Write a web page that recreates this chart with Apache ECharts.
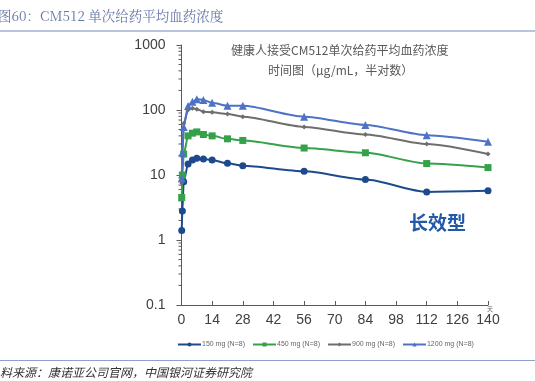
<!DOCTYPE html>
<html><head><meta charset="utf-8">
<script src="https://cdn.jsdelivr.net/npm/echarts@6/dist/echarts.min.js"></script>
<style>html,body{margin:0;padding:0;background:#fff}#c{width:535px;height:381px}</style>
</head><body><div id="c"></div>
<script>
const days = [0.1, 0.4, 1, 3, 5, 7, 10, 14, 21, 28, 56, 84, 112, 140];
const dose150 = [1.4, 2.8, 7.9, 14.8, 17.0, 18.1, 17.6, 17.0, 15.1, 13.9, 11.4, 8.5, 5.5, 5.7];
const dose450 = [4.5, 10, 21, 40, 44, 46, 42, 40, 36, 34, 26, 22, 15, 13];
const dose900 = [7.5, 20, 62, 100, 106, 103, 94, 92, 87, 79, 55, 42, 30, 21];
const dose1200 = [8.9, 22, 55, 115, 134, 146, 143, 129, 116, 116, 79, 59, 41, 32.5];
const seriesNames = ['150 mg (N=8)', '450 mg (N=8)', '900 mg (N=8)', '1200 mg (N=8)'];
const xTicks = [0, 14, 28, 42, 56, 70, 84, 98, 112, 126, 140];
const yTicks = [0.1, 1, 10, 100, 1000];
const minorTicks = [];
for (let d = 0.1; d < 1000; d *= 10) { for (let k = 2; k <= 9; k++) minorTicks.push(+(d * k).toPrecision(3)); }

const chart = echarts.init(document.getElementById('c'), null, {renderer: 'canvas'});
function pairs(vals) { return days.map((d, i) => [d, vals[i]]); }
function lineSeries(name, vals, color, symbol, size) {
  return {
    name: name, type: 'line', data: pairs(vals), smooth: 0.25, smoothMonotone: 'x',
    symbol: symbol, symbolSize: size,
    lineStyle: {color: color, width: 2}, itemStyle: {color: color},
    emphasis: {disabled: true}, z: 3
  };
}
const option = {
  animation: false,
  backgroundColor: '#fff',
  textStyle: {fontFamily: 'Liberation Sans, Arial, sans-serif'},
  grid: {left: 181.5, right: 47, top: 45, bottom: 76},
  legend: {
    left: 172, top: 336, itemWidth: 23, itemHeight: 5, itemGap: 7,
    textStyle: {fontSize: 7, color: '#666', padding: [0, 0, 0, -4]},
    data: seriesNames
  },
  xAxis: {
    type: 'value', min: 0, max: 140, interval: 14,
    axisLine: {lineStyle: {color: '#595959', width: 1}},
    axisTick: {inside: true, length: 4, lineStyle: {color: '#595959'}},
    axisLabel: {fontSize: 14, color: '#404040', margin: 8,
      formatter: v => xTicks.indexOf(v) >= 0 ? String(v) : ''},
    splitLine: {show: false}
  },
  yAxis: {
    type: 'log', logBase: 10, min: yTicks[0], max: yTicks[yTicks.length - 1],
    axisLine: {show: true, lineStyle: {color: '#595959', width: 1}},
    axisTick: {show: true, inside: false, length: 5, lineStyle: {color: '#595959'}},
    axisLabel: {fontSize: 14, color: '#404040', margin: 16,
      formatter: v => String(+(+v).toPrecision(3))},
    splitLine: {show: false}
  },
  graphic: [
    {type: 'text', left: -2, top: 9, style: {text: '图60：CM512 单次给药平均血药浓度', fontSize: 13.5,
      fill: '#6878a8', fontFamily: 'Noto Serif CJK SC, Noto Sans CJK SC, serif'}},
    {type: 'rect', shape: {x: 0, y: 30, width: 535, height: 2}, style: {fill: '#b9c4de'}},
    {type: 'text', left: 231, top: 44, style: {text: '健康人接受CM512单次给药平均血药浓度', fontSize: 12,
      fill: '#595959', fontFamily: 'Noto Sans CJK SC, sans-serif'}},
    {type: 'text', left: 268, top: 64, style: {text: '时间图（μg/mL，半对数）', fontSize: 12,
      fill: '#595959', fontFamily: 'Noto Sans CJK SC, sans-serif'}},
    {type: 'text', left: 409, top: 213, style: {text: '长效型', fontSize: 19, fontWeight: 'bold',
      fill: '#2359a8', fontFamily: 'Noto Sans CJK SC, sans-serif'}},
    {type: 'text', left: 487, top: 306, style: {text: '天', fontSize: 6, fill: '#666',
      fontFamily: 'Noto Sans CJK SC, sans-serif'}},
    {type: 'rect', shape: {x: 0, y: 360, width: 535, height: 1}, style: {fill: '#8fa0cc'}},
    {type: 'text', left: 0, top: 366, style: {text: '料来源：康诺亚公司官网，中国银河证券研究院', fontSize: 12,
      fontStyle: 'italic', fill: '#333', fontFamily: 'Noto Sans CJK SC, sans-serif'}}
  ],
  series: [
    lineSeries(seriesNames[0], dose150, '#1c4a8c', 'circle', 7),
    lineSeries(seriesNames[1], dose450, '#35a24a', 'rect', 7),
    lineSeries(seriesNames[2], dose900, '#6e6e6e', 'diamond', 5),
    lineSeries(seriesNames[3], dose1200, '#4e72c6', 'triangle', 8),
    {
      type: 'custom', silent: true, clip: false, z: 1,
      data: minorTicks.map(v => [0, v]),
      renderItem: function (params, api) {
        const p = api.coord([api.value(0), api.value(1)]);
        return {type: 'line', shape: {x1: p[0] - 3, y1: p[1], x2: p[0], y2: p[1]},
          style: {stroke: '#595959', lineWidth: 1}};
      }
    }
  ]
};
chart.setOption(option);
</script></body></html>
